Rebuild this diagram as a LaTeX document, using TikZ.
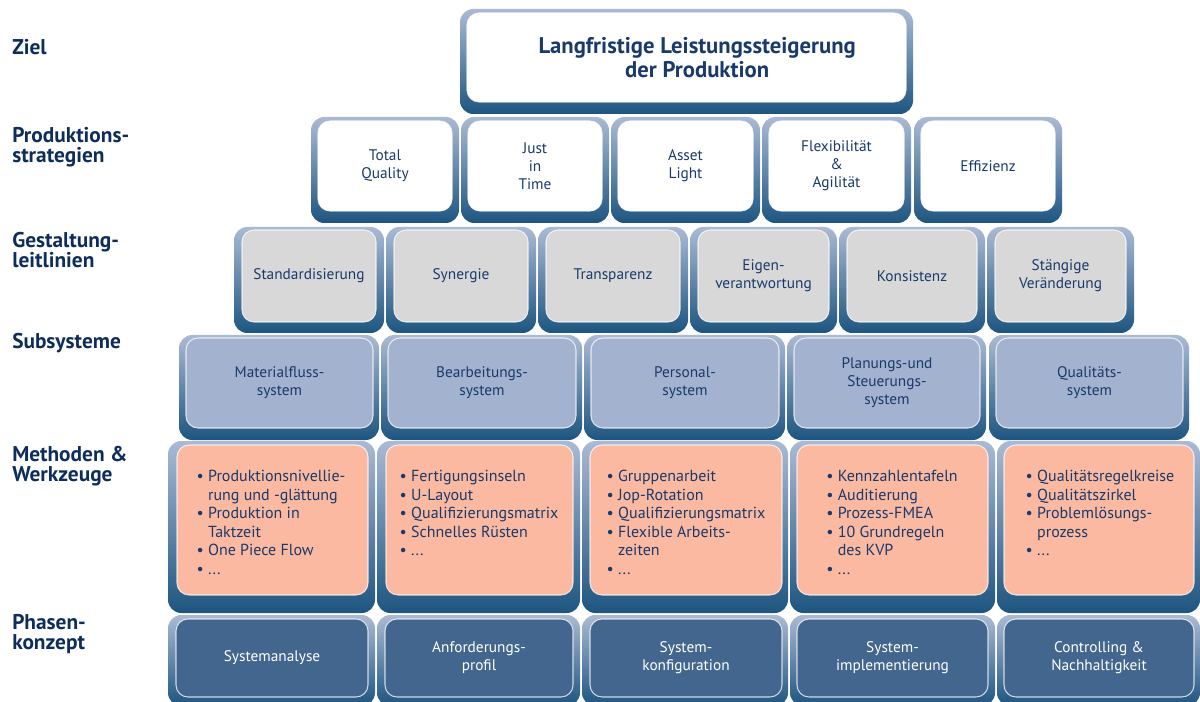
\documentclass[tikz,border=0pt]{standalone}
\usepackage{fontspec}
\setmainfont{PT Sans}

\definecolor{rahmenOben}{HTML}{ABBAD4}
\definecolor{rahmenUnten}{HTML}{1D5580}
\definecolor{grau}{HTML}{D8D8D8}
\definecolor{blaugrau}{HTML}{A3B2CE}
\definecolor{lachs}{HTML}{FAB9A0}
\definecolor{dunkel}{HTML}{43668F}
\definecolor{schrift}{HTML}{1A3A6B}
\definecolor{etikett}{HTML}{0E2D5A}

\newcommand{\pkt}{\textbullet\ }
\newcommand{\ein}{\hphantom{\textbullet\ }}

\tikzset{
    rahmen/.style={rounded corners=10pt, top color=rahmenOben, bottom color=rahmenUnten},
    feld/.style={rounded corners=9pt, draw=white, draw opacity=0.75, line width=0.8pt},
    txt/.style={align=center, text=schrift, font=\fontsize{11.5}{13.5}\selectfont, inner sep=0pt},
    liste/.style={anchor=north, align=left, text=schrift, font=\fontsize{12}{13.9}\selectfont, inner sep=0pt},
    ebene/.style={anchor=west, align=left, text=etikett, font=\fontsize{16}{15}\selectfont\bfseries, inner sep=0pt},
}

\begin{document}
\begin{tikzpicture}[x=0.75pt, y=-0.75pt]
    \useasboundingbox (0, 0) rectangle (1200, 702);

    % Ebenen links
    \node[ebene] (lZiel)   at (12, 47)  {Ziel};
    \node[ebene] (lStrat)  at (12, 147) {Produktions-\\strategien};
    \node[ebene] (lLeit)   at (12, 250) {Gestaltung-\\leitlinien};
    \node[ebene] (lSub)    at (12, 343) {Subsysteme};
    \node[ebene] (lMeth)   at (12, 466) {Methoden \&\\Werkzeuge};
    \node[ebene] (lPhase)  at (12, 634) {Phasen-\\konzept};

    % Rahmen
    \shade[rahmen]
        (460, 9) rectangle (913, 114);
    \shade[rahmen]
        (311, 117) rectangle (459, 223)
        (461, 117) rectangle (609, 223)
        (611, 117) rectangle (760, 223)
        (762, 117) rectangle (911, 223)
        (914, 117) rectangle (1062, 223);
    \shade[rahmen]
        (234, 227) rectangle (384, 333)
        (386, 227) rectangle (536, 333)
        (538, 227) rectangle (688, 333)
        (690, 227) rectangle (837, 333)
        (839, 227) rectangle (985, 333)
        (987, 227) rectangle (1134, 333);
    \shade[rahmen]
        (179, 335) rectangle (379, 440)
        (381, 335) rectangle (582, 440)
        (584, 335) rectangle (785, 440)
        (787, 335) rectangle (986, 440)
        (989, 335) rectangle (1189, 440);
    \shade[rahmen]
        (168, 441) rectangle (375, 613)
        (377, 441) rectangle (580, 613)
        (582, 441) rectangle (788, 613)
        (790, 441) rectangle (995, 613)
        (997, 441) rectangle (1200, 613);
    \shade[rahmen]
        (168, 615) rectangle (375, 706)
        (377, 615) rectangle (580, 706)
        (582, 615) rectangle (788, 706)
        (790, 615) rectangle (995, 706)
        (997, 615) rectangle (1200, 706);

    % Ziel
    \filldraw[feld, fill=white]
        (467, 13) rectangle node[txt, xshift=8pt, font=\fontsize{17}{18}\selectfont\bfseries] (ziel)
            {Langfristige Leistungssteigerung\\der Produktion} (906, 102);

    % Produktionsstrategien
    \filldraw[feld, fill=white]
        (318, 121) rectangle node[txt] (str1) {Total\\Quality} (452, 211)
        (468, 121) rectangle node[txt] (str2) {Just\\in\\Time} (602, 211)
        (618, 121) rectangle node[txt] (str3) {Asset\\Light} (753, 211)
        (769, 121) rectangle node[txt] (str4) {Flexibilität\\\&\\Agilität} (904, 211)
        (921, 121) rectangle node[txt] (str5) {Effizienz} (1055, 211);

    % Gestaltungsleitlinien
    \filldraw[feld, fill=grau]
        (242, 230) rectangle node[txt] (lei1) {Standardisierung} (376, 322)
        (394, 230) rectangle node[txt] (lei2) {Synergie} (528, 322)
        (546, 230) rectangle node[txt] (lei3) {Transparenz} (680, 322)
        (698, 230) rectangle node[txt] (lei4) {Eigen-\\verantwortung} (829, 322)
        (847, 230) rectangle node[txt] (lei5) {Konsistenz} (977, 322)
        (995, 230) rectangle node[txt] (lei6) {Stängige\\Veränderung} (1126, 322);

    % Subsysteme
    \filldraw[feld, fill=blaugrau]
        (186, 338) rectangle node[txt] (sub1) {Materialfluss-\\system} (373, 428)
        (388, 338) rectangle node[txt] (sub2) {Bearbeitungs-\\system} (576, 428)
        (591, 338) rectangle node[txt] (sub3) {Personal-\\system} (779, 428)
        (794, 338) rectangle node[txt] (sub4) {Planungs-und\\Steuerungs-\\system} (980, 428)
        (996, 338) rectangle node[txt] (sub5) {Qualitäts-\\system} (1183, 428);

    % Methoden und Werkzeuge
    \filldraw[feld, fill=lachs]
        (177, 445) rectangle (368, 595)
        (386, 445) rectangle (573, 595)
        (590, 445) rectangle (782, 595)
        (797, 445) rectangle (988, 595)
        (1004, 445) rectangle (1194, 595);
    \node[liste] (met1) at (271, 470)
        {\pkt Produktionsnivellie-\\\ein rung und -glättung\\\pkt Produktion in\\\ein Taktzeit\\\pkt One Piece Flow\\\pkt ...};
    \node[liste] (met2) at (479, 470)
        {\pkt Fertigungsinseln\\\pkt U-Layout\\\pkt Qualifizierungsmatrix\\\pkt Schnelles Rüsten\\\pkt ...};
    \node[liste] (met3) at (686, 470)
        {\pkt Gruppenarbeit\\\pkt Jop-Rotation\\\pkt Qualifizierungsmatrix\\\pkt Flexible Arbeits-\\\ein zeiten\\\pkt ...};
    \node[liste] (met4) at (892, 470)
        {\pkt Kennzahlentafeln\\\pkt Auditierung\\\pkt Prozess-FMEA\\\pkt 10 Grundregeln\\\ein des KVP\\\pkt ...};
    \node[liste] (met5) at (1100, 470)
        {\pkt Qualitätsregelkreise\\\pkt Qualitätszirkel\\\pkt Problemlösungs-\\\ein prozess\\\pkt ...};

    % Phasenkonzept
    \filldraw[feld, fill=dunkel]
        (176, 619) rectangle node[txt, text=white] (pha1) {Systemanalyse} (368, 697)
        (385, 619) rectangle node[txt, text=white] (pha2) {Anforderungs-\\profil} (573, 697)
        (590, 619) rectangle node[txt, text=white] (pha3) {System-\\konfiguration} (782, 697)
        (797, 619) rectangle node[txt, text=white] (pha4) {System-\\implementierung} (988, 697)
        (1004, 619) rectangle node[txt, text=white] (pha5) {Controlling \&\\Nachhaltigkeit} (1194, 697);
\end{tikzpicture}
\end{document}
